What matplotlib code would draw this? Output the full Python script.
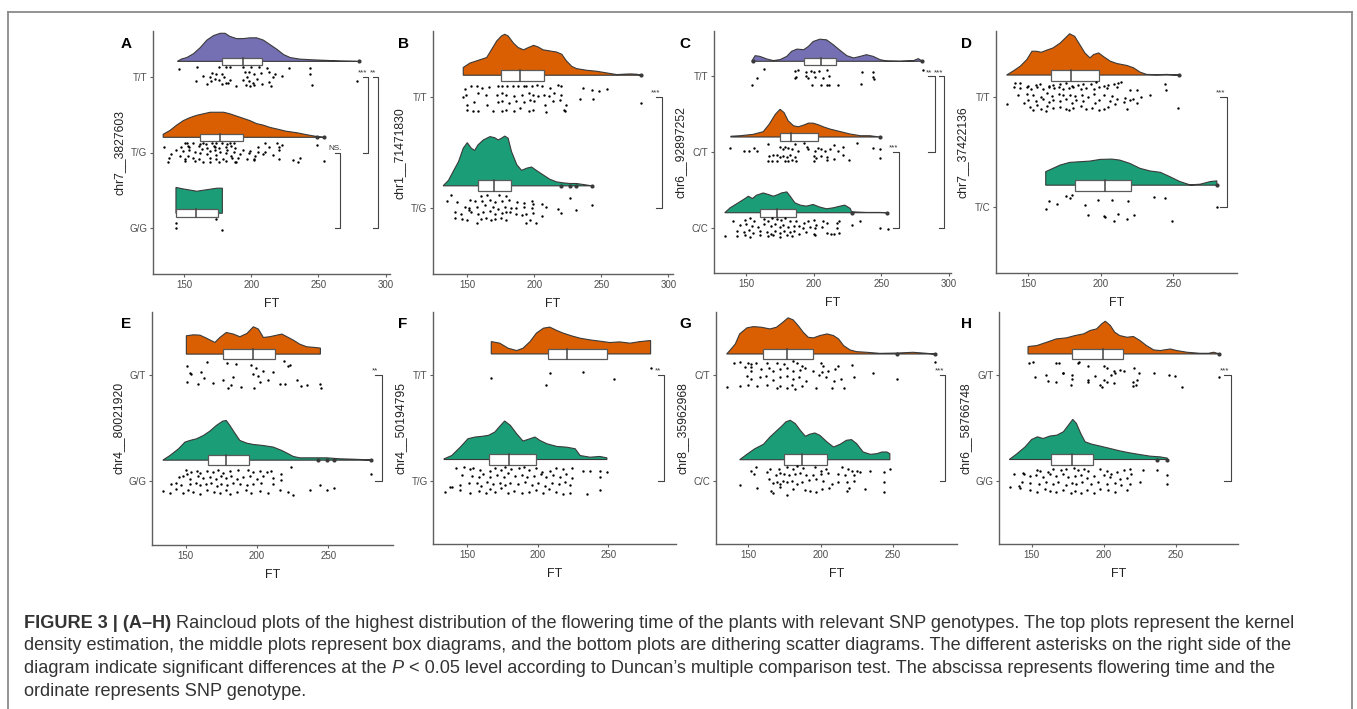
"""Raincloud plots (FIGURE 3 A-H): flowering time by SNP genotype."""

import numpy as np
import matplotlib
matplotlib.use("Agg")
import matplotlib.pyplot as plt
from matplotlib.patches import Rectangle
from matplotlib.lines import Line2D

plt.rcParams["font.family"] = ["Liberation Sans", "DejaVu Sans"]

W, H = 1357, 709
PURPLE, ORANGE, GREEN = "#7570B3", "#D95F02", "#1B9E77"
EDGE = "#3a3a3a"
BOXEDGE = "#5a5a5a"
AXCOL = "#5f5f5f"
TICKCOL = "#4d4d4d"

# ---- panel A: chr7__3827603 -------------------------------------------------
a_tt_ft = [146, 160, 176, 181, 184, 194, 200, 206, 212, 228, 244,
           171, 174, 178, 195, 198, 202, 207, 213, 218, 223, 244,
           164, 169, 173, 180, 184, 197, 204, 216,
           159, 170, 176, 181, 194, 198, 201, 213, 279,
           167, 178, 183, 189, 196, 199, 202, 208, 215, 245]
a_tt_jit = [.10, .12, .12, .13, .13, .12, .12, .13, .11, .11, .11,
            .05, .03, .04, .06, .06, .04, .05, .06, .03, .01, .04,
            .01, 0, -.03, -.01, -.04, 0, -.03, -.01,
            -.06, -.06, -.05, -.08, -.04, -.06, -.08, -.07, -.06,
            -.10, -.10, -.09, -.12, -.11, -.12, -.11, -.10, -.12, -.11]
a_tt_dx = [145, 148, 152, 157, 162, 167, 172, 177, 180.5, 184, 189, 194, 199, 204,
           209, 214, 219, 224, 229, 236, 246, 256, 266, 279]
a_tt_dh = [0, .03, .05, .10, .18, .28, .34, .37, .37, .33, .30, .30, .31, .31,
           .28, .22, .16, .09, .05, .03, .02, .013, .005, 0]
a_tt_box = [178, 194, 208]
a_tt_out = [280]

a_tg_ft = [135, 151, 152, 157, 162, 164, 166, 171, 174, 178, 182, 184, 187, 210, 219, 223, 249,
           148, 153, 154, 161, 167, 172, 173, 176, 181, 185, 188, 205, 213, 221,
           144, 149, 154, 158, 163, 169, 173, 177, 182, 187, 194, 199, 205, 210, 221,
           140, 147, 153, 162, 167, 174, 181, 185, 192, 198, 203, 209, 216,
           139, 151, 157, 161, 169, 174, 179, 186, 190, 197, 202, 221, 231, 236,
           138, 151, 158, 164, 169, 176, 181, 188, 189, 202, 235, 254]
a_tg_jit = [.07, .12, .12, .12, .11, .13, .11, .12, .13, .12, .11, .13, .12, .12, .12, .10, .10,
            .07, .09, .07, .08, .06, .09, .07, .06, .07, .08, .06, .07, .07, .07,
            .03, .02, .03, .01, .04, .02, .03, .01, .03, .01, .03, .02, .01, .01, .03,
            -.02, -.04, -.04, -.01, -.02, -.03, -.01, -.04, -.02, -.01, -.04, -.02, -.03,
            -.07, -.08, -.07, -.09, -.07, -.08, -.09, -.07, -.07, -.08, -.09, -.09, -.10, -.07,
            -.12, -.11, -.11, -.12, -.12, -.12, -.11, -.12, -.12, -.10, -.12, -.11]
a_tg_dx = [134.5, 139.5, 144.5, 149.5, 154.5, 159.5, 164.5, 169.5, 174.5, 179.5, 184, 189,
           194, 199, 204, 209, 214, 219, 226, 234, 241, 249, 254]
a_tg_dh = [.04, .09, .16, .22, .26, .29, .31, .33, .33, .33, .31, .28,
           .25, .22, .18, .16, .13, .11, .08, .06, .035, .01, 0]
a_tg_box = [162, 177, 194]
a_tg_out = [249, 254]

a_gg_ft = [144, 144, 174, 178]
a_gg_jit = [.07, 0, .12, -.02]
a_gg_dx = [144, 149.5, 159.5, 167, 174.5, 178.5]
a_gg_dh = [.34, .32, .29, .31, .33, .33]
a_gg_box = [144, 159, 175]
a_gg_out = []

# ---- panel B: chr1__71471830 ------------------------------------------------
b_tt_ft = [148, 153, 157, 161, 166, 173, 176, 180, 184, 188, 192, 194, 198, 202, 206, 212, 218, 220, 236, 243, 248, 254,
           147, 149, 158, 164, 172, 176, 179, 185, 191, 196, 199, 203, 207, 211, 215, 220, 234, 244,
           150, 155, 165, 173, 176, 181, 186, 192, 197, 200, 208, 214, 219, 224, 280,
           150, 154, 158, 169, 176, 179, 185, 189, 196, 199, 209, 222, 223]
b_tt_jit = [.079, .10, .10, .085, .09, .106, .106, .106, .10, .106, .10, .106, .10, .115, .10, .085, .115, .10, .085, .064, .055, .076,
            0, .024, .039, .018, .024, .039, .024, .009, .024, .039, .024, .009, .024, .009, .039, .024, -.012, -.012,
            -.067, -.045, -.067, -.042, -.03, -.052, -.03, -.042, -.021, -.036, -.067, -.036, -.021, -.067, -.052,
            -.112, -.121, -.121, -.121, -.121, -.112, -.121, -.097, -.121, -.112, -.133, -.112, -.121]
b_tt_dx = [147, 152, 159.5, 164.5, 168, 172, 175.5, 178, 180.5, 184.5, 188, 192, 195.5, 199.5, 203,
           206.5, 211.5, 216.5, 220.5, 224, 228, 231.5, 239, 246.5, 254, 261.5, 266.5, 271.5, 276.5, 280]
b_tt_dh = [.07, .11, .14, .16, .23, .31, .355, .37, .355, .29, .25, .23, .25, .27, .255,
           .23, .22, .21, .19, .13, .08, .06, .045, .036, .021, .006, .009, .012, .009, 0]
b_tt_box = [175, 189, 207.5]
b_tt_out = [280]

b_tg_ft = [138, 160, 165, 174, 179,
           135, 142, 152, 156, 161, 167, 171, 176, 181, 187, 192, 198, 199, 206, 227,
           148, 151, 157, 163, 169, 173, 178, 183, 186, 192, 198, 209, 218, 231, 243,
           141, 145, 151, 153, 158, 162, 167, 171, 176, 179, 182, 186, 191, 194, 199, 206, 220,
           141, 146, 150, 157, 160, 164, 168, 171, 175, 179, 194, 197, 201]
b_tg_jit = [.115, .109, .121, .115, .109,
            .064, .055, .07, .061, .061, .07, .055, .061, .07, .055, .048, .061, .039, .039, .091,
            .009, 0, .009, .024, .009, -.006, .009, 0, 0, .009, 0, .009, -.012, -.021, .024,
            -.036, -.052, -.021, -.036, -.052, -.036, -.027, -.052, -.042, -.036, -.036, -.052, -.061, -.052, -.042, -.073, -.042,
            -.091, -.097, -.112, -.133, -.103, -.091, -.112, -.103, -.091, -.112, -.133, -.112, -.133]
b_tg_dx = [132, 136, 139.5, 143.5, 147, 150, 153, 155.5, 158, 162, 167, 170.5, 173, 175.5, 178,
           180.5, 183, 187, 190.5, 194.5, 198, 201.5, 206.5, 211.5, 216.5, 221.5, 226.5, 231.5, 236.5, 243]
b_tg_dh = [0, .05, .13, .22, .34, .39, .34, .32, .37, .415, .445, .435, .415, .43, .45,
           .43, .31, .19, .14, .16, .17, .14, .10, .06, .036, .027, .021, .021, .012, 0]
b_tg_box = [158, 170, 182.5]
b_tg_out = [220, 227, 231, 243]

# ---- panel C: chr6__92897252 ------------------------------------------------
c_tt_ft = [163, 186, 188, 194, 198, 200, 204, 210, 236, 244, 281,
           158, 186, 187, 194, 196, 201, 207, 211, 244, 245,
           154, 199, 205, 210, 211, 218, 235]
c_tt_jit = [.10, .078, .087, .065, .078, .057, .078, .087, .065, .065, .087,
            -.022, -.022, -.009, 0, -.022, -.009, -.022, .004, -.009, -.03,
            -.118, -.118, -.118, -.118, -.118, -.118, -.096]
c_tt_dx = [154, 156.5, 160, 165, 170, 175, 180, 183.5, 187.5, 192.5, 196, 199.5, 204.5, 209.5,
           214.5, 219.5, 224.5, 229.5, 234.5, 239, 244, 249, 254, 264, 274, 277.5, 280.5]
c_tt_dh = [0, .074, .065, .031, .009, .022, .065, .131, .161, .153, .196, .261, .292, .283,
           .218, .144, .074, .044, .065, .087, .065, .022, .004, 0, .009, .035, 0]
c_tt_box = [192.5, 205, 216.5]
c_tt_out = [155, 280]

c_ct_ft = [138, 148, 152, 156, 158, 166, 175, 177, 179, 181, 184, 186, 188, 193, 195, 196, 201, 203, 205, 208,
           212, 215, 218, 222, 232, 244, 249,
           167, 170, 173, 175, 177, 180, 182, 184, 186, 200, 202, 205, 210, 215, 222, 226, 249,
           166, 169, 173, 179, 181, 187, 200, 210]
c_ct_jit = [.061, .017, .017, .052, .017, .109, .074, .044, .074, .052, .044, .105, .017, .118, .074, .044, .009, .052, .044, .009,
            .044, .096, .017, .074, .118, .052, .044,
            -.057, -.044, -.035, -.07, -.057, -.07, -.035, -.1, -.07, -.057, -.078, -.057, -.07, -.087, -.044, -.1, -.078,
            -.113, -.122, -.113, -.122, -.113, -.122, -.113, -.1]
c_ct_dx = [138.5, 145.5, 155, 162.5, 167, 171.5, 175, 178, 181, 185, 188.5, 192.5, 196, 199.5,
           203.5, 207, 212, 217, 222, 227, 234.5, 241.5, 249]
c_ct_dh = [.01, .017, .035, .07, .17, .30, .366, .322, .214, .148, .135, .157, .183, .183,
           .161, .135, .105, .083, .061, .039, .017, .017, 0]
c_ct_box = [175, 183, 203]
c_ct_out = [249]

c_cc_ft = [140, 149, 153, 156, 163, 166, 169, 173, 176, 179, 182, 187, 193, 196, 200, 202, 207, 210, 217, 219, 228, 234,
           145, 150, 154, 159, 163, 168, 171, 175, 177, 181, 185, 189, 192, 197, 201, 206, 217, 249, 255,
           143, 148, 152, 155, 160, 165, 168, 171, 175, 178, 182, 185, 189, 194, 200, 210, 213, 219,
           134, 143, 149, 153, 160, 166, 170, 175, 180, 184, 201, 215]
c_cc_jit = [.096, .105, .131, .087, .118, .096, .126, .118, .105, .131, .096, .087, .061, .096, .105, .044, .087, .061, .061, .096, .044, .087,
            .044, .052, .031, .017, .052, .031, .052, .017, .044, .009, .031, .031, 0, .009, 0, .017, 0, 0, -.013,
            -.035, -.057, -.026, -.07, -.044, -.057, -.078, -.044, -.07, -.035, -.057, -.035, -.078, -.057, -.078, -.07, -.078, -.07,
            -.113, -.113, -.1, -.122, -.1, -.113, -.1, -.122, -.1, -.113, -.1, -.087]
c_cc_dx = [134, 138, 144, 149, 151.5, 154.5, 157.5, 162.5, 166.5, 170, 173.5, 176, 180, 182.5, 186,
           190, 194.5, 199.5, 204.5, 209.5, 214.5, 219.5, 223, 227, 228, 232, 239, 249, 254.5]
c_cc_dh = [0, .065, .131, .187, .218, .187, .231, .261, .24, .218, .24, .261, .275, .218, .131,
           .10, .087, .109, .074, .052, .065, .087, .10, .057, .013, .009, .004, .004, 0]
c_cc_box = [160, 173, 186.5]
c_cc_out = [228, 254]

# ---- panel D: chr7__37422136 ------------------------------------------------
d_tt_ft = [141, 144, 150, 155, 158, 164, 167, 172, 176, 180, 184, 188, 193, 197, 202, 205, 209, 212, 214, 244,
           140, 144, 149, 152, 156, 160, 164, 168, 171, 174, 178, 181, 186, 190, 195, 199, 204, 211, 220, 225, 245,
           143, 149, 153, 159, 163, 166, 171, 174, 179, 182, 187, 191, 195, 202, 208, 211, 217, 222, 228, 234,
           135, 147, 150, 155, 160, 164, 167, 172, 176, 180, 183, 188, 196, 199, 206, 210, 216, 220, 225,
           151, 156, 159, 163, 167, 172, 176, 181, 186, 190, 194, 199, 202, 205, 218, 153, 162, 178, 253]
d_tt_jit = [.129, .129, .099, .111, .12, .105, .111, .12, .129, .105, .111, .12, .12, .135, .105, .111, .12, .129, .135, .12,
            .09, .081, .09, .075, .09, .075, .09, .081, .09, .069, .081, .09, .075, .081, .069, .09, .081, .09, .06, .06, .06,
            .015, .03, .015, 0, .039, .009, .03, .015, .021, .009, .015, 0, .03, .015, .009, -.015, -.009, -.015, 0, .021,
            -.06, -.051, -.03, -.039, -.021, -.045, -.03, -.039, -.021, -.051, -.03, -.039, -.051, -.03, -.039, -.06, -.045, -.03, -.051,
            -.09, -.075, -.105, -.084, -.099, -.09, -.105, -.099, -.081, -.111, -.099, -.12, -.111, -.09, -.105, -.12, -.129, -.12, -.099]
d_tt_dx = [135, 139.5, 144.5, 149, 152.5, 155.5, 159, 162.5, 167, 172, 175.5, 178.5, 182, 185.5,
           189, 192.5, 195, 198.5, 201.5, 206.5, 211, 218, 222.5, 227, 231.5, 238.5, 245.5, 253.5]
d_tt_dh = [0, .036, .081, .141, .216, .216, .207, .225, .246, .291, .336, .375, .351, .276,
           .201, .156, .186, .201, .171, .126, .105, .087, .066, .027, .006, .003, .006, 0]
d_tt_box = [165.5, 179.5, 198.5]
d_tt_out = [254]

d_tc_ft = [164, 176, 179, 180, 198, 208, 219, 237, 244, 162, 170, 189, 280, 191, 202, 203, 212, 218, 223, 209, 249]
d_tc_jit = [.06, .099, .084, .114, .069, .069, .06, .09, .084, -.015, .03, .024, 0, -.072, -.081, -.09, -.066, -.111, -.072, -.126, -.126]
d_tc_dx = [162, 167, 172, 178.5, 185.5, 192.5, 199.5, 207.5, 213, 220, 227, 234, 241, 247.5, 254.5,
           261.5, 268.5, 275.5, 280]
d_tc_dh = [.123, .153, .183, .207, .213, .219, .234, .237, .228, .198, .153, .129, .117, .078, .033,
           .003, .009, .033, .039]
d_tc_box = [182, 203, 221]
d_tc_out = [280]

# ---- panel E: chr4__80021920 ------------------------------------------------
e_gt_ft = [151, 165, 179, 185, 196, 199, 204, 211, 219, 222, 223,
           153, 154, 161, 163, 183, 197, 201, 208, 216, 220, 228,
           151, 159, 169, 176, 180, 182, 189, 198, 202, 231, 235, 244, 245]
e_gt_jit = [.085, .126, .116, .11, .094, .069, .041, .031, .132, .085, .10,
            .022, .009, .031, -.022, -.016, .009, -.009, -.047, -.079, -.079, -.041,
            -.063, -.085, -.072, -.047, -.116, -.094, -.11, -.116, -.063, -.104, -.094, -.079, -.116]
e_gt_dx = [150.5, 155.5, 160, 164.5, 170.5, 174, 178.5, 183.5, 188, 193, 197.5, 201, 204.5, 209,
           214, 217.5, 221, 225.5, 230, 235, 240.5, 244.5]
e_gt_dh = [.173, .182, .179, .151, .11, .157, .204, .189, .164, .195, .258, .236, .157, .164,
           .179, .189, .164, .132, .094, .069, .063, .057]
e_gt_box = [176.5, 197, 213]
e_gt_out = []

e_gg_ft = [150, 154, 158, 160, 165, 169, 173, 176, 181, 187, 194, 197, 202, 207, 210, 217, 224, 151,
           145, 148, 153, 159, 162, 167, 171, 175, 178, 182, 186, 190, 195, 200, 204, 211, 217, 280,
           140, 143, 147, 153, 157, 160, 164, 168, 172, 175, 179, 183, 188, 193, 197, 203, 211, 244,
           134, 139, 143, 148, 152, 155, 160, 165, 170, 174, 178, 181, 186, 192, 196, 202, 208, 216, 222, 225, 237, 249, 254]
e_gg_jit = [.104, .088, .097, .079, .097, .088, .104, .079, .097, .104, .11, .088, .097, .088, .097, .072, .135, .072,
            .041, .047, .025, .047, .035, .041, .025, .047, .035, .047, .025, .041, .047, .025, .047, .035, .016, .072,
            -.028, -.016, -.038, -.022, -.016, -.038, -.028, -.016, -.047, -.022, -.038, -.016, -.028, -.038, -.022, -.016, -.028, -.031,
            -.091, -.11, -.069, -.11, -.079, -.101, -.116, -.079, -.101, -.11, -.085, -.116, -.101, -.085, -.11, -.091, -.11, -.079, -.101, -.126, -.079, -.085, -.063]
e_gg_dx = [134, 139, 145, 149.5, 153, 157.5, 162.5, 167, 171.5, 176, 178.5, 181, 184.5, 188,
           193, 197.5, 204.5, 211.5, 217.5, 222, 225.5, 230, 239.5, 249, 258, 267.5, 279, 280]
e_gg_dh = [0, .044, .107, .17, .186, .201, .233, .274, .327, .368, .374, .327, .255, .186,
           .16, .148, .138, .123, .091, .06, .035, .022, .022, .022, .013, .009, .003, 0]
e_gg_box = [165.5, 178.5, 194.5]
e_gg_out = [243, 249, 254, 280]

# ---- panel F: chr4__50194795 ------------------------------------------------
f_tt_ft = [167, 206, 209, 232, 254, 280]
f_tt_jit = [-.032, -.095, .022, .029, -.035, .063]
f_tt_dx = [167, 173, 179, 185, 189.5, 194.5, 199, 204, 208.5, 213.5, 218, 224, 230, 237,
           244, 251, 258, 265.5, 272.5, 280]
f_tt_dh = [.117, .102, .054, .032, .054, .117, .197, .244, .254, .222, .197, .171, .149, .133,
           .121, .108, .114, .102, .117, .127]
f_tt_box = [207, 220.5, 249]
f_tt_out = []

f_tg_ft = [142, 148, 152, 154, 159, 166, 170, 174, 177, 181, 187, 190, 194, 199, 203, 209, 213, 218, 224, 232, 237, 244, 249,
           146, 153, 158, 161, 166, 171, 176, 179, 184, 189, 192, 197, 202, 206, 211, 216, 220, 224, 244,
           138, 145, 151, 157, 160, 164, 168, 173, 177, 180, 186, 191, 196, 200, 205, 210, 215, 219, 223,
           134, 139, 145, 152, 158, 163, 166, 170, 174, 179, 183, 189, 194, 199, 204, 208, 213, 218, 223, 235, 244]
f_tg_jit = [.117, .127, .108, .117, .102, .095, .117, .102, .127, .108, .117, .133, .102, .117, .086, .095, .117, .108, .117, .095, .095, .095, .086,
            .054, .044, .038, .063, .032, .054, .038, .07, .044, .054, .032, .044, .063, .032, .054, .038, .063, .022, .038,
            -.057, -.041, -.019, -.025, -.051, -.01, -.032, -.019, -.041, -.019, -.032, -.01, -.041, -.025, -.051, -.019, -.032, -.01, -.041,
            -.111, -.063, -.089, -.114, -.095, -.114, -.083, -.105, -.073, -.121, -.095, -.114, -.105, -.089, -.114, -.083, -.105, -.127, -.114, -.127, -.089]
f_tg_dx = [133.5, 139, 145, 150.5, 155.5, 160, 165, 169.5, 173, 176.5, 180.5, 185, 189.5, 194.5,
           198, 201.5, 206.5, 213.5, 220.5, 226.5, 230, 237, 244, 249]
f_tg_dh = [.006, .038, .117, .197, .213, .219, .229, .26, .314, .365, .324, .244, .175, .197,
           .213, .181, .149, .124, .117, .102, .038, .022, .029, .016]
f_tg_box = [165.5, 179.5, 198.5]
f_tg_out = []

# ---- panel G: chr8__35962968 ------------------------------------------------
g_ct_ft = [140, 144, 150, 152, 155, 163, 170, 175, 181, 184, 187, 200, 202, 212, 222, 279,
           148, 152, 152, 159, 164, 167, 172, 177, 181, 186, 189, 195, 201, 205, 210, 236,
           149, 152, 158, 162, 167, 172, 177, 181, 185, 190, 199, 204, 209, 214, 223, 253,
           135, 144, 150, 156, 163, 170, 172, 177, 180, 182, 187, 197, 208, 216]
g_ct_jit = [.111, .127, .117, .104, .111, .117, .117, .104, .133, .111, .085, .117, .085, .085, .095, .12,
            .073, .079, .041, .054, .063, .041, .054, .063, .041, .047, .063, .041, .032, .041, .054, .022,
            -.009, -.041, -.022, -.009, -.047, -.022, -.009, -.041, -.016, -.054, 0, -.022, -.054, -.041, -.022, -.038,
            -.111, -.104, -.095, -.104, -.095, -.117, -.104, -.117, -.095, -.127, -.104, -.117, -.117, -.117]
g_ct_dx = [135, 137.5, 141, 144, 149, 153.5, 159, 165, 169.5, 174, 177.5, 181, 184.5, 188, 191.5,
           195, 199.5, 204.5, 209, 212.5, 216, 220.5, 225, 232, 241, 253, 264, 271, 279]
g_ct_dh = [0, .038, .095, .19, .247, .259, .253, .237, .253, .301, .342, .323, .269, .206, .158,
           .152, .174, .19, .174, .142, .079, .038, .022, .016, .006, .009, .016, .009, 0]
g_ct_box = [160.5, 176.5, 194.5]
g_ct_out = [253, 279]

g_cc_ft = [155, 165, 171, 177, 181, 184, 188, 196, 200, 204, 215, 219, 222, 225, 227, 234, 244, 248,
           152, 154, 163, 169, 172, 175, 178, 182, 186, 190, 195, 200, 205, 212, 217, 223,
           144, 156, 164, 167, 170, 172, 174, 177, 180, 184, 187, 192, 197, 202, 208, 212, 218, 223, 244,
           166, 167, 172, 177, 181, 189, 193, 197, 201, 206, 218, 220, 231, 244]
g_cc_jit = [.13, .114, .114, .13, .114, .136, .123, .13, .098, .114, .13, .114, .098, .098, .082, .092, .082, .114,
            .098, .066, .082, .06, .073, .066, .051, .066, .073, .06, .051, .066, .073, .066, .06, .06,
            -.035, -.066, .019, -.022, -.013, -.028, .003, -.013, .003, -.028, -.013, .009, .019, .003, -.028, -.013, -.013, .003, -.013,
            -.092, -.117, -.06, -.13, -.076, -.085, -.092, -.108, -.076, -.066, -.092, -.066, -.076, -.108]
g_cc_dx = [144, 149, 154.5, 160.5, 165, 169.5, 173, 176, 179, 182.5, 186, 189.5, 192.5, 196,
           199.5, 204.5, 209, 213.5, 218, 221.5, 225, 229.5, 234.5, 239, 242.5, 246, 248]
g_cc_dh = [0, .051, .104, .146, .215, .272, .316, .358, .373, .342, .278, .222, .241, .253,
           .231, .168, .12, .146, .184, .19, .152, .073, .051, .057, .073, .073, .057]
g_cc_box = [174.5, 187, 204.5]
g_cc_out = []

# ---- panel H: chr6__58766748 ------------------------------------------------
h_gt_ft = [148, 151, 167, 169, 183, 182, 189, 200, 202, 207, 211, 214, 221, 235, 245, 249, 280,
           152, 160, 161, 167, 172, 172, 178, 178, 177, 189, 189, 194, 197, 199, 200, 202, 205, 207, 208, 220,
           220, 222, 223, 224, 254]
h_gt_jit = [.111, .127, .117, .117, .127, .111, .085, .085, .063, .041, .047, .041, .063, .022, 0, -.009, -.016,
            -.016, 0, -.054, -.063, .016, .022, 0, -.041, -.095, -.047, -.063, -.009, -.095, -.111, -.047, -.063, 0, -.073, .016, -.063,
            -.104, -.095, -.047, .016, -.117]
h_gt_dx = [147.5, 153.5, 160.5, 167, 174, 180, 186, 190.5, 195, 198.5, 201, 204.5, 207.5, 211,
           216, 220.5, 225, 229.5, 234.5, 239, 246, 250.5, 257.5, 266.5, 272.5, 276, 280]
h_gt_dh = [.07, .079, .111, .142, .152, .174, .19, .222, .237, .285, .31, .269, .206, .174,
           .158, .165, .127, .079, .038, .032, .047, .032, .016, .006, .006, .016, 0]
h_gt_box = [178, 199.5, 213.5]
h_gt_out = [280]

h_gg_ft = [144, 154, 156, 161, 165, 170, 174, 179, 182, 186, 189, 197, 202, 205, 209, 214, 218, 219, 227, 237, 244,
           138, 145, 149, 153, 158, 163, 167, 172, 175, 180, 184, 188, 193, 200, 204, 211, 216,
           135, 141, 143, 149, 155, 160, 165, 168, 174, 178, 181, 185, 191, 196, 202, 208, 212, 218, 225, 244,
           142, 149, 154, 159, 163, 167, 172, 177, 180, 184, 188, 193, 197, 203, 208, 216]
h_gg_jit = [.073, .104, .092, .082, .114, .098, .114, .123, .098, .114, .092, .114, .092, .066, .082, .104, .114, .066, .098, .098, .051,
            .066, .06, .041, .051, .035, .06, .041, .06, .035, .041, .051, .028, .041, .051, .035, .019, .028,
            -.06, -.054, -.013, -.022, -.028, -.013, -.035, -.013, -.044, -.022, -.035, -.013, -.028, -.013, -.035, -.022, -.044, -.028, -.013, -.035,
            -.066, -.085, -.108, -.076, -.098, -.108, -.085, -.117, -.098, -.117, -.092, -.117, -.076, -.085, -.108, -.092]
h_gg_dx = [134.5, 139.5, 145.5, 150, 154, 158, 162.5, 167.5, 172, 175.5, 178.5, 181, 184, 187,
           191.5, 197.5, 204.5, 211, 218, 225, 232, 239, 244]
h_gg_dh = [0, .051, .12, .19, .215, .199, .222, .231, .263, .326, .38, .342, .247, .168,
           .146, .127, .104, .082, .063, .047, .032, .025, .013]
h_gg_box = [163.5, 178, 192.5]
h_gg_out = [237, 244]

# significance brackets: (upper genotype, lower genotype, tip FT, bar FT, label)
a_brackets = [("T/T", "T/G", 283, 287, "***"), ("T/T", "G/G", 290.5, 294.5, "**"),
              ("T/G", "G/G", 262, 266, "NS.")]
b_brackets = [("T/T", "T/G", 290.5, 295, "***")]
c_brackets = [("T/T", "C/T", 285, 289.5, "**"), ("T/T", "C/C", 292.5, 296.5, "***"),
              ("C/T", "C/C", 259, 263, "***")]
d_brackets = [("T/T", "T/C", 282.5, 287, "***")]
e_brackets = [("G/T", "G/G", 283, 288, "**")]
f_brackets = [("T/T", "T/G", 285.5, 289.5, "**")]
g_brackets = [("C/T", "C/C", 282.5, 286.5, "***")]
h_brackets = [("G/T", "G/G", 283.5, 288, "***")]


def grp(color, ft, jit, dx, dh, box, out):
    return dict(color=color, ft=ft, jit=jit, dx=dx, dh=dh, box=box, out=out)


panels = [
    dict(letter="A", ylab="chr7__3827603", cats=["T/T", "T/G", "G/G"],
         groups=[grp(PURPLE, a_tt_ft, a_tt_jit, a_tt_dx, a_tt_dh, a_tt_box, a_tt_out),
                 grp(ORANGE, a_tg_ft, a_tg_jit, a_tg_dx, a_tg_dh, a_tg_box, a_tg_out),
                 grp(GREEN, a_gg_ft, a_gg_jit, a_gg_dx, a_gg_dh, a_gg_box, a_gg_out)],
         brackets=a_brackets, px=(152.7, 390, 31, 274), xlim=(126.7, 303.2),
         xticks=[150, 200, 250, 300], lx=121),
    dict(letter="B", ylab="chr1__71471830", cats=["T/T", "T/G"],
         groups=[grp(ORANGE, b_tt_ft, b_tt_jit, b_tt_dx, b_tt_dh, b_tt_box, b_tt_out),
                 grp(GREEN, b_tg_ft, b_tg_jit, b_tg_dx, b_tg_dh, b_tg_box, b_tg_out)],
         brackets=b_brackets, px=(432.7, 672.7, 31, 274.3), xlim=(124.2, 303.3),
         xticks=[150, 200, 250, 300], lx=398),
    dict(letter="C", ylab="chr6__92897252", cats=["T/T", "C/T", "C/C"],
         groups=[grp(PURPLE, c_tt_ft, c_tt_jit, c_tt_dx, c_tt_dh, c_tt_box, c_tt_out),
                 grp(ORANGE, c_ct_ft, c_ct_jit, c_ct_dx, c_ct_dh, c_ct_box, c_ct_out),
                 grp(GREEN, c_cc_ft, c_cc_jit, c_cc_dx, c_cc_dh, c_cc_box, c_cc_out)],
         brackets=c_brackets, px=(713.7, 950.7, 31, 273.3), xlim=(125.8, 301.5),
         xticks=[150, 200, 250, 300], lx=679),
    dict(letter="D", ylab="chr7__37422136", cats=["T/T", "T/C"],
         groups=[grp(ORANGE, d_tt_ft, d_tt_jit, d_tt_dx, d_tt_dh, d_tt_box, d_tt_out),
                 grp(GREEN, d_tc_ft, d_tc_jit, d_tc_dx, d_tc_dh, d_tc_box, d_tc_out)],
         brackets=d_brackets, px=(995.7, 1236.7, 31, 273.3), xlim=(127.5, 293.7),
         xticks=[150, 200, 250], lx=961),
    dict(letter="E", ylab="chr4__80021920", cats=["G/T", "G/G"],
         groups=[grp(ORANGE, e_gt_ft, e_gt_jit, e_gt_dx, e_gt_dh, e_gt_box, e_gt_out),
                 grp(GREEN, e_gg_ft, e_gg_jit, e_gg_dx, e_gg_dh, e_gg_box, e_gg_out)],
         brackets=e_brackets, px=(151.7, 392.7, 311.7, 545), xlim=(126.2, 295.2),
         xticks=[150, 200, 250], lx=121),
    dict(letter="F", ylab="chr4__50194795", cats=["T/T", "T/G"],
         groups=[grp(ORANGE, f_tt_ft, f_tt_jit, f_tt_dx, f_tt_dh, f_tt_box, f_tt_out),
                 grp(GREEN, f_tg_ft, f_tg_jit, f_tg_dx, f_tg_dh, f_tg_box, f_tg_out)],
         brackets=f_brackets, px=(433.3, 676, 311.7, 544), xlim=(125.9, 298),
         xticks=[150, 200, 250], lx=398),
    dict(letter="G", ylab="chr8__35962968", cats=["C/T", "C/C"],
         groups=[grp(ORANGE, g_ct_ft, g_ct_jit, g_ct_dx, g_ct_dh, g_ct_box, g_ct_out),
                 grp(GREEN, g_cc_ft, g_cc_jit, g_cc_dx, g_cc_dh, g_cc_box, g_cc_out)],
         brackets=g_brackets, px=(715.7, 956.7, 311.7, 544.3), xlim=(127.4, 294.3),
         xticks=[150, 200, 250], lx=679),
    dict(letter="H", ylab="chr6__58766748", cats=["G/T", "G/G"],
         groups=[grp(ORANGE, h_gt_ft, h_gt_jit, h_gt_dx, h_gt_dh, h_gt_box, h_gt_out),
                 grp(GREEN, h_gg_ft, h_gg_jit, h_gg_dx, h_gg_dh, h_gg_box, h_gg_out)],
         brackets=h_brackets, px=(999, 1238.3, 311.7, 544), xlim=(127.4, 293.1),
         xticks=[150, 200, 250], lx=961),
]


def draw_panel(fig, p):
    left, right, top, bottom = p["px"]
    ax = fig.add_axes([left / W, 1 - bottom / H, (right - left) / W, (bottom - top) / H])
    n = len(p["cats"])
    ypos = {c: n - i for i, c in enumerate(p["cats"])}

    for cat, g in zip(p["cats"], p["groups"]):
        y = ypos[cat]
        base = y + 0.2
        dx = np.asarray(g["dx"], float)
        dh = np.asarray(g["dh"], float)
        # half violin (flat side down)
        ax.fill(np.r_[dx, dx[::-1]], np.r_[base + dh, np.full(len(dx), base)],
                facecolor=g["color"], edgecolor=EDGE, lw=0.8, zorder=2)
        q1, med, q3 = g["box"]
        ax.add_patch(Rectangle((q1, base - 0.05), q3 - q1, 0.1, facecolor="white",
                               edgecolor=BOXEDGE, lw=0.9, zorder=3))
        ax.plot([med, med], [base - 0.05, base + 0.05], color="#444444", lw=1.1, zorder=4)
        if g["out"]:
            ax.scatter(g["out"], np.full(len(g["out"]), base), s=9, color=EDGE, lw=0, zorder=4)
        # jittered raw points
        ax.scatter(g["ft"], y + np.asarray(g["jit"]), s=3.0, color="black", lw=0, zorder=3)

    for up, lo, tip, bar, lab in p["brackets"]:
        yt, yb = ypos[up], ypos[lo]
        ax.plot([tip, bar, bar, tip], [yt, yt, yb, yb], color="#444444", lw=0.8,
                zorder=3, clip_on=False)
        ax.annotate(lab, (tip, yt), xytext=(0, 1.8), textcoords="offset points",
                    ha="center", va="baseline", fontsize=5.8, color="#333333")

    ax.set_xlim(*p["xlim"])
    ax.set_ylim(0.4, n + 0.6)
    ax.set_yticks([ypos[c] for c in p["cats"]])
    ax.set_yticklabels(p["cats"])
    ax.set_xticks(p["xticks"])
    for s in ("top", "right"):
        ax.spines[s].set_visible(False)
    for s in ("left", "bottom"):
        ax.spines[s].set_color(AXCOL)
        ax.spines[s].set_linewidth(1.0)
    ax.tick_params(colors=AXCOL, labelcolor=TICKCOL, labelsize=7.0,
                   length=2.2, width=0.8, pad=1.8)
    ax.set_xlabel("FT", fontsize=9, color="#222222")
    ax.set_ylabel(p["ylab"], fontsize=8.8, color="#222222")
    ax.xaxis.set_label_coords(0.5, -24 / (bottom - top))
    ax.yaxis.set_label_coords(-27 / (right - left), 0.5)
    fig.text(p["lx"] / W, 1 - (top + 16.5) / H, p["letter"], fontsize=11,
             fontweight="bold", ha="left", va="baseline", color="black")
    return ax


def main():
    fig = plt.figure(figsize=(W / 100, H / 100), dpi=100)
    fig.patch.set_facecolor("white")

    for p in panels:
        draw_panel(fig, p)

    # outer frame (open at the bottom)
    frame = dict(color="#8a8a8a", lw=1.3)
    fig.add_artist(Line2D([8 / W, 8 / W], [0, 1 - 12 / H], **frame))
    fig.add_artist(Line2D([8 / W, 1352 / W], [1 - 12 / H, 1 - 12 / H], **frame))
    fig.add_artist(Line2D([1352 / W, 1352 / W], [0, 1 - 12 / H], **frame))

    # caption
    cap_col = "#333333"
    lines = [
        [("FIGURE 3 | (A–H)", dict(fontweight="bold")),
         (" Raincloud plots of the highest distribution of the flowering time of the plants with "
          "relevant SNP genotypes. The top plots represent the kernel", {})],
        [("density estimation, the middle plots represent box diagrams, and the bottom plots are "
          "dithering scatter diagrams. The different asterisks on the right side of the", {})],
        [("diagram indicate significant differences at the ", {}),
         ("P", dict(fontstyle="italic")),
         (" < 0.05 level according to Duncan’s multiple comparison test. The abscissa represents "
          "flowering time and the", {})],
        [("ordinate represents SNP genotype.", {})],
    ]
    renderer = fig.canvas.get_renderer()

    def line_width(parts, fs):
        w = 0
        for txt, kw in parts:
            t = fig.text(0, 0, txt, fontsize=fs, **kw)
            w += t.get_window_extent(renderer=renderer).width
            t.remove()
        return w

    fs = 10.0 * (1297 - 24) / line_width(lines[0], 10.0)
    baselines = [628, 650.5, 673, 695.5]
    for parts, yb in zip(lines, baselines):
        x = 24
        for txt, kw in parts:
            t = fig.text(x / W, 1 - yb / H, txt, fontsize=fs, color=cap_col,
                         ha="left", va="baseline", **kw)
            x += t.get_window_extent(renderer=renderer).width

    fig.savefig("out.png", dpi=100, facecolor="white")


if __name__ == "__main__":
    main()
